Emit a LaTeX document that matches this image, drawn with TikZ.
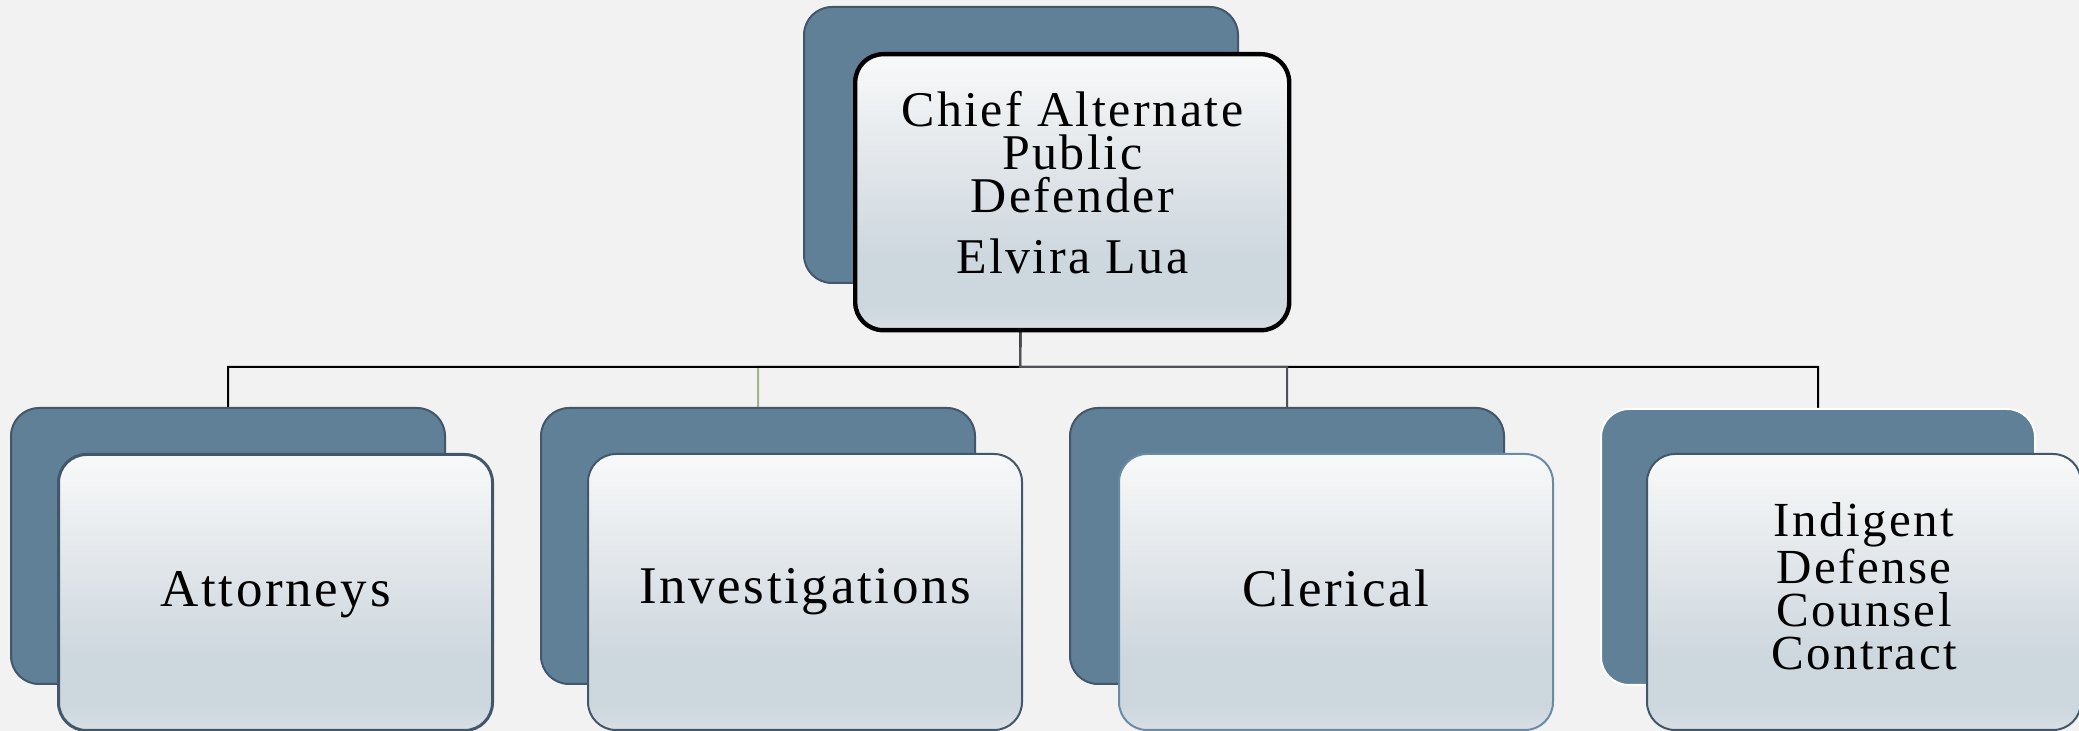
\documentclass[tikz,border=0pt]{standalone}
\usepackage{fontspec}
\newfontfamily\boxfont[LetterSpace=5]{Liberation Serif}
\definecolor{bgc}{HTML}{F2F2F2}
\definecolor{backc}{HTML}{5F8096}
\definecolor{edgec}{HTML}{44576A}
\definecolor{clered}{HTML}{6B8BA3}
\definecolor{olivec}{HTML}{A3B38B}
\definecolor{grayc}{HTML}{505058}
\definecolor{stopc}{HTML}{F8F9F9}
\definecolor{smidc}{HTML}{E1E6EA}
\definecolor{sdarkc}{HTML}{CDD7DE}
\definecolor{sbotc}{HTML}{D9E0E6}
\pgfdeclareverticalshading{boxshade}{100bp}{color(0bp)=(sbotc); color(25bp)=(sbotc); color(29bp)=(sdarkc); color(38bp)=(sdarkc); color(55bp)=(smidc); color(75bp)=(stopc); color(100bp)=(stopc)}
\pgfdeclarelayer{bglayer}
\pgfdeclarelayer{connlayer}
\pgfsetlayers{bglayer,connlayer,main}
\tikzset{
  backbox/.style={draw=edgec, line width=1pt, fill=backc, rounded corners=14pt,
    minimum width=217pt, minimum height=138pt, anchor=north west, inner sep=0pt},
  frontbox/.style={draw=edgec, line width=1pt, rounded corners=14pt, shading=boxshade,
    minimum width=217pt, minimum height=138pt, anchor=north west, inner sep=0pt,
    align=center, text=black},
  conn/.style={line width=1pt},
}
\begin{document}
\begin{tikzpicture}[x=0.5pt,y=-0.5pt]
\begin{pgfonlayer}{bglayer}
\fill[bgc] (0,0) rectangle (2079,731);
\end{pgfonlayer}
\useasboundingbox (0,0) rectangle (2079,731);

\node[backbox] (topback) at (803,6) {};
\node[frontbox, draw=black, line width=2.2pt,
  font=\boxfont\fontsize{25}{21.5}\selectfont] (top) at (853,52)
  {Chief Alternate\\Public\\Defender\\[9pt]Elvira Lua\rule[-10pt]{0pt}{0pt}};

\node[backbox] (attback) at (10,407) {};
\node[frontbox, line width=1.5pt, font=\boxfont\fontsize{26.5}{22}\selectfont] (att) at (57,453) {\raisebox{0pt}[\height][3pt]{Attorneys}};

\node[backbox] (invback) at (540,407) {};
\node[frontbox, font=\boxfont\fontsize{26.5}{22}\selectfont] (inv) at (587,453) {Investigations};

\node[backbox] (clerback) at (1069,407) {};
\node[frontbox, draw=clered, font=\boxfont\fontsize{26.5}{22}\selectfont] (cler) at (1118,453) {Clerical\rule[-4pt]{0pt}{0pt}};

\node[backbox, draw=white] (idcback) at (1600,408) {};
\node[frontbox, font=\boxfont\fontsize{24.5}{21.5}\selectfont] (idc) at (1646,453)
  {Indigent\\Defense\\Counsel\\Contract\rule[-6pt]{0pt}{0pt}};

\begin{pgfonlayer}{connlayer}
\coordinate (bus) at (1020,367);
\draw[conn, olivec] (topback.south) -- (bus) -| (invback.north);
\draw[conn, black] (topback.south) -- (bus) -| (idcback.north);
\draw[conn, black] (topback.south) -- (bus) -| (attback.north);
\draw[conn, grayc] (topback.south) -- (bus) -| (clerback.north);
\end{pgfonlayer}
\end{tikzpicture}
\end{document}
